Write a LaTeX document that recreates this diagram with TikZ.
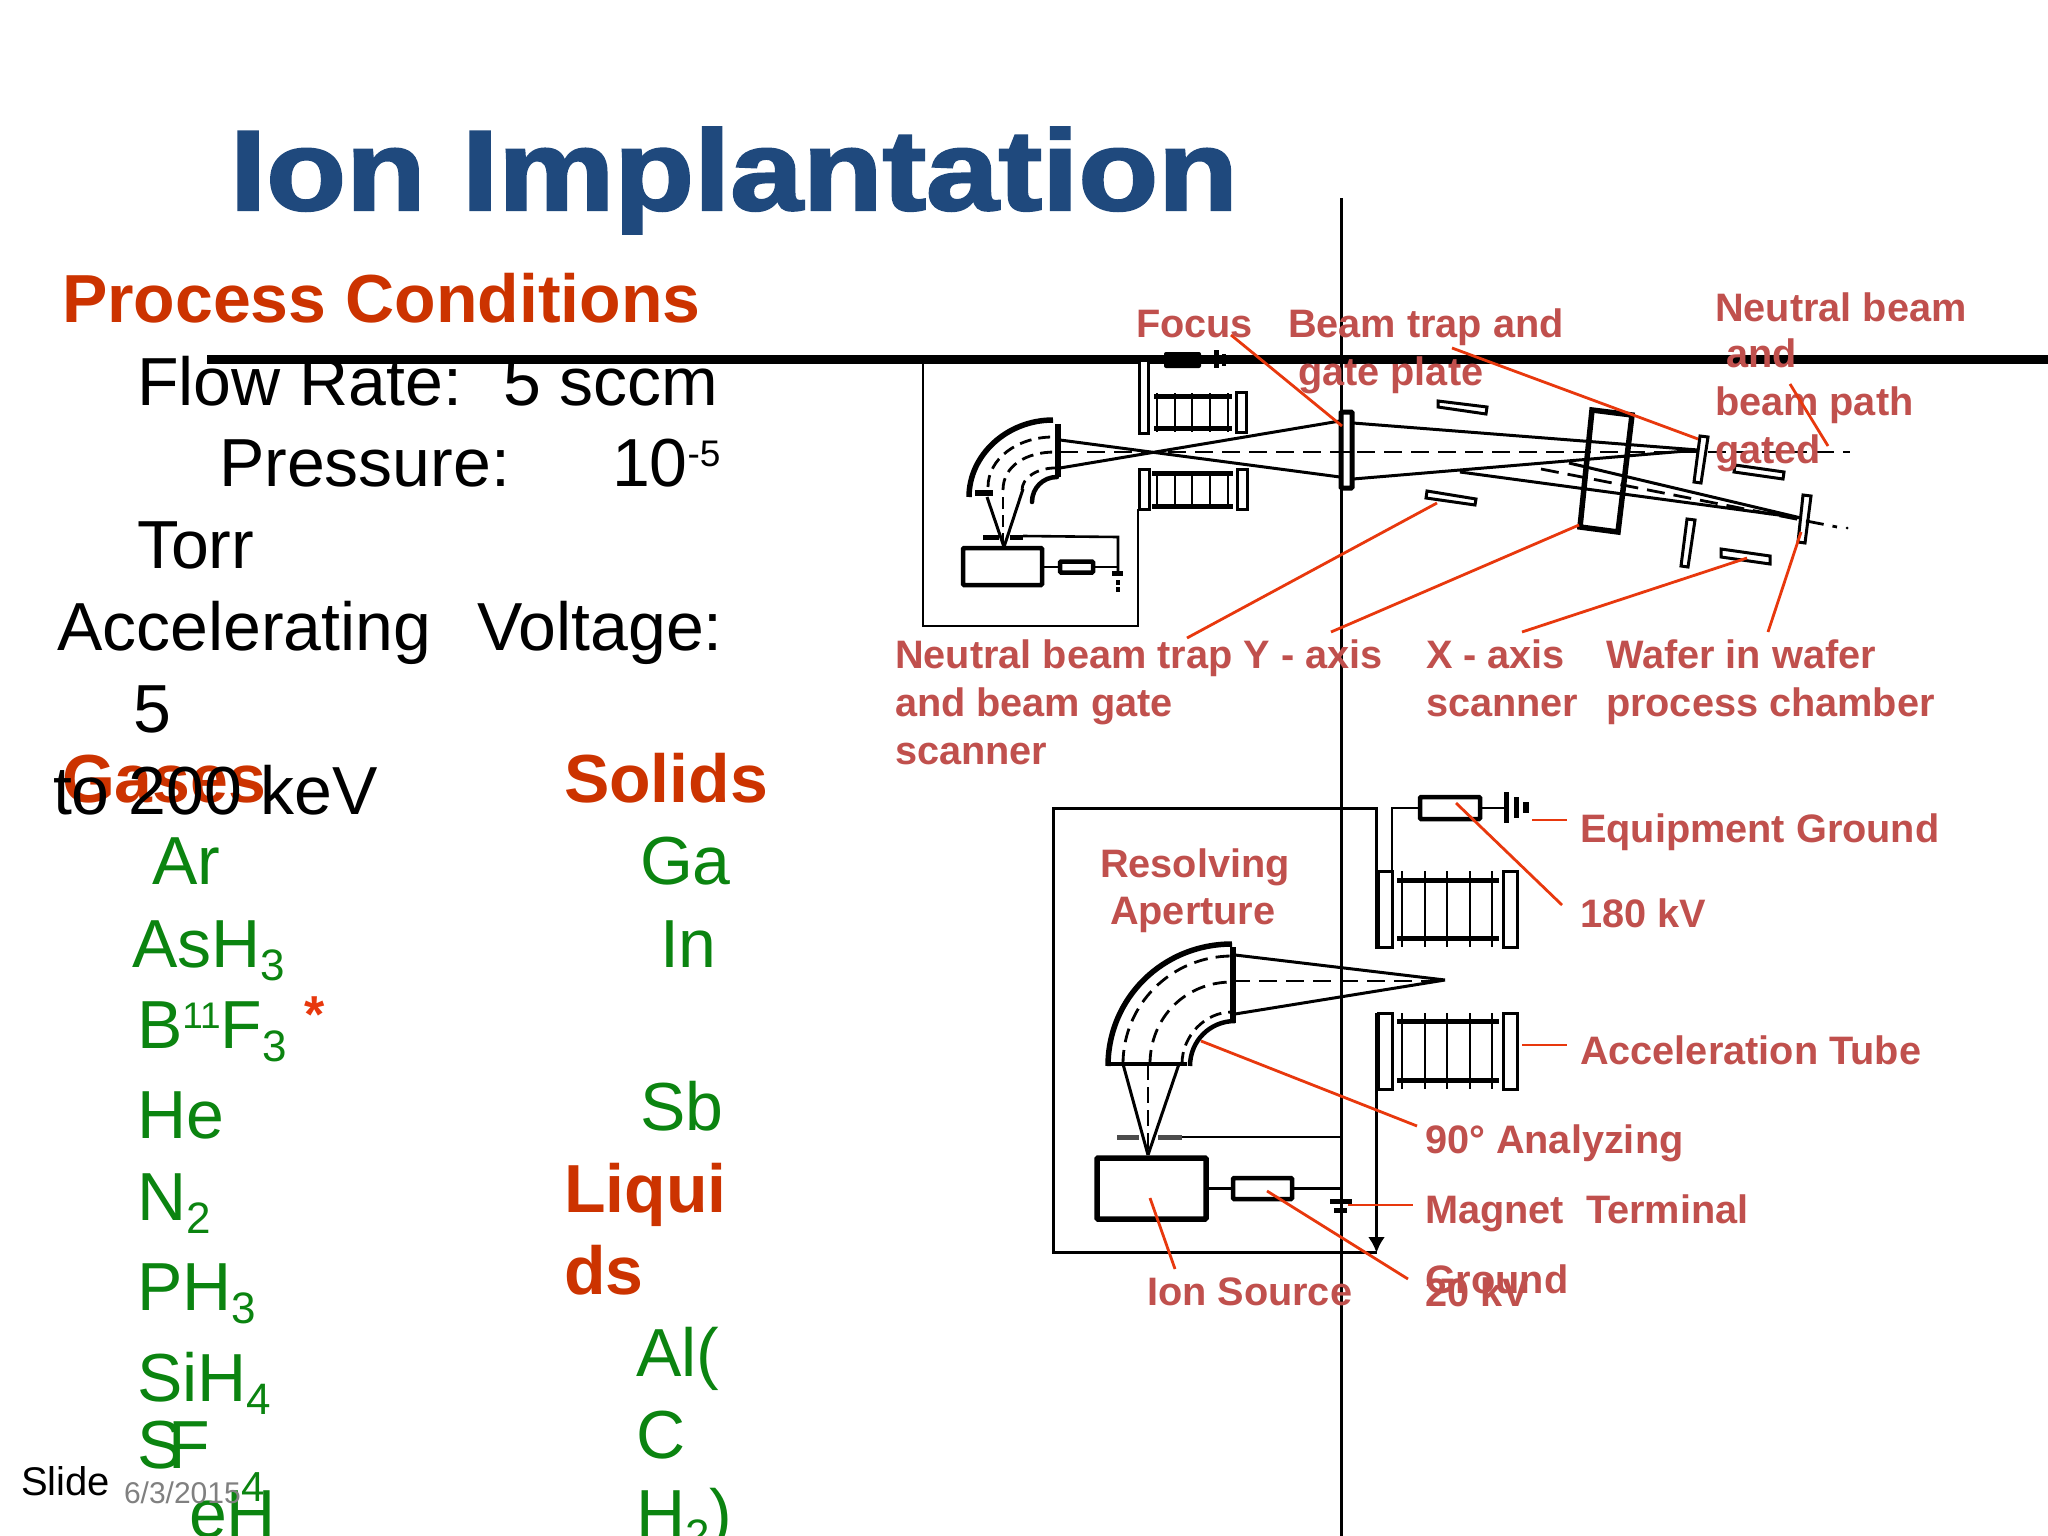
\documentclass[tikz,border=0pt]{standalone}
\usepackage{fontspec}
\usetikzlibrary{arrows.meta}
\setmainfont{Liberation Sans}
\newfontfamily\titlefont[FakeBold=2]{Liberation Sans Bold}
\definecolor{slideblue}{HTML}{1F497D}
\definecolor{headred}{HTML}{CC3300}
\definecolor{labred}{HTML}{C0504D}
\definecolor{leadred}{HTML}{E8380D}
\definecolor{chemgreen}{HTML}{0B8410}
\newcommand{\sbt}[1]{\raisebox{-13pt}{\fontsize{44}{44}\selectfont #1}}
\newcommand{\spt}[1]{\raisebox{20pt}{\fontsize{37}{37}\selectfont #1}}
\tikzset{
 x=1pt,y=-1pt,
 txt/.style={anchor=base west,inner sep=0,outer sep=0,font=\fontsize{68}{68}\selectfont},
 head/.style={txt,text=headred,font=\fontsize{68}{68}\selectfont\bfseries},
 chem/.style={txt,text=chemgreen},
 lab/.style={txt,text=labred,font=\fontsize{39.7}{39.7}\selectfont\bfseries},
 lead/.style={draw=leadred,line width=2.8pt},
 thin wire/.style={draw=black,line width=2.6pt},
 beam/.style={draw=black,line width=3pt},
 axis/.style={draw=black,line width=2.8pt,dash pattern=on 18pt off 9pt},
 plate/.style={draw=black,line width=3pt,fill=white},
 res/.style={draw=black,line width=4.5pt,rounded corners=1pt,fill=white},
}
\begin{document}
\begin{tikzpicture}
\useasboundingbox (0,0) rectangle (2048,1536);
\fill[white] (0,0) rectangle (2048,1536);
% --- rule lines
\coordinate (ruleL) at (207,359); \coordinate (ruleR) at (2048,359);
\coordinate (vtop) at (1341,198); \coordinate (vbot) at (1341,1536);
\draw[line width=9pt] (ruleL) -- (ruleR);
\draw[line width=3pt] (vtop) -- (vbot);
% --- title + left column
\node[txt,text=slideblue,font=\fontsize{114}{114}\titlefont,xscale=1.145] (title) at (230,210) {Ion Implantation};
\node[head] (proc) at (62,322) {Process Conditions};
\node[txt] (t1) at (137,405) {Flow Rate:};
\node[txt] (t1b) at (503,405) {5 sccm};
\node[txt] (t2) at (219,486) {Pressure:};
\node[txt] (t2b) at (612,486) {10\spt{-5}};
\node[txt] (t3) at (137,568) {Torr};
\node[txt] (t4) at (57,650) {Accelerating};
\node[txt] (t4b) at (477,650) {Voltage:};
\node[txt] (t5) at (133,732) {5};
\node[head] (gases) at (62,802) {Gases};
\node[txt] (t6) at (53,814) {to 200 keV};
\node[head] (solids) at (564,802) {Solids};
\node[chem] (g1) at (152,884) {Ar};
\node[chem] (g2) at (132,967) {AsH\sbt{3}};
\node[chem] (g3) at (137,1048) {B\spt{11}F\sbt{3}};
\node[txt,text=leadred,font=\fontsize{52}{52}\selectfont\bfseries] (star) at (304,1032) {*};
\node[chem] (g4) at (137,1138) {He};
\node[chem] (g5) at (137,1220) {N\sbt{2}};
\node[chem] (g6) at (137,1310) {PH\sbt{3}};
\node[chem] (g7) at (137,1401) {SiH\sbt{4}};
\node[chem] (g8) at (137,1468) {S};
\node[chem] (g8b) at (168,1468) {F};
\node[chem,font=\fontsize{42}{42}\selectfont] (g8c) at (241,1501) {4};
\node[chem] (g9) at (189,1537) {eH};
\node[chem] (s1) at (640,884) {Ga};
\node[chem] (s2) at (660,967) {In};
\node[chem] (s3) at (640,1130) {Sb};
\node[head] (liq1) at (564,1212) {Liqui};
\node[head] (liq2) at (564,1294) {ds};
\node[chem] (s4) at (636,1376) {Al(};
\node[chem] (s5) at (636,1458) {C};
\node[chem] (s6) at (636,1537) {H\sbt{2})};
\node[txt,font=\fontsize{40}{40}\selectfont] (slide) at (21,1495) {Slide};
\node[txt,text=black!50,font=\fontsize{30}{30}\selectfont] (date) at (124,1503) {6/3/2015};
% --- upper apparatus
\draw[thin wire] (1139,359) -- (923,359) -- (923,626) -- (1138,626) -- (1138,509);
\draw[plate] (1139,360) rectangle (1148,433);
\draw[plate] (1139,469) rectangle (1149,509);
\draw[plate] (1236,392) rectangle (1246,432);
\draw[plate] (1237,469) rectangle (1247,509);
\draw[line width=5pt] (1154,396) -- (1232,396) (1154,428) -- (1232,428) (1152,473) -- (1233,473) (1152,506) -- (1233,506);
\foreach \vx in {1157,1175,1192,1210,1228}{
 \draw[line width=2.5pt] (\vx,393) -- (\vx,432) (\vx,471) -- (\vx,509);}
\fill[rounded corners=2pt] (1164,352) rectangle (1201,368);
\draw[line width=5pt] (1216,350) -- (1216,368);
\draw[line width=4pt] (1224,354) -- (1224,366);
% magnet
\draw[line width=5.5pt] (969,497) .. controls (969,455) and (1007,420) .. (1053,420);
\draw[line width=4.5pt,line cap=round] (1032,502) .. controls (1032,488) and (1043,477) .. (1057,477);
\draw[line width=5.5pt] (1058,424) -- (1058,477);
\draw[line width=2.8pt,dash pattern=on 12pt off 7pt] (988,487) .. controls (988,459) and (1017,437) .. (1053,437);
\draw[line width=2.8pt,dash pattern=on 12pt off 7pt] (1003,490) .. controls (1003,466) and (1026,452) .. (1055,452);
\draw[line width=2.8pt,dash pattern=on 10pt off 7pt] (1022,490) .. controls (1022,478) and (1037,468) .. (1055,468);
\draw[line width=6pt] (975,493) -- (993,493);
\draw[beam] (1004,547) -- (987,497) (1004,547) -- (1023,489);
\draw[line width=2.5pt,dash pattern=on 12pt off 6pt] (1003,545) -- (1003,495);
\draw[line width=5pt] (983,537) -- (999,537) (1010,537) -- (1023,537);
\coordinate (srcwire) at (1118,537);
\draw[thin wire] (1023,536) -- (srcwire) -- (1118,573);
\node[draw,line width=4.5pt,rounded corners=1pt,minimum width=79pt,minimum height=37pt,inner sep=0] (srcA) at (1002.5,566.5) {};
\node[res,minimum width=33pt,minimum height=11pt,inner sep=0] (resA) at (1076.5,567) {};
\draw[thin wire] (srcA.east |- resA.west) -- (resA.west);
\draw[thin wire] (resA.east) -- (1118,567);
\draw[line width=5pt] (1112,573) -- (1123,573);
\draw[line width=5pt] (1116,582) -- (1120,582) (1116,589) -- (1120,589);
% beams
\draw[beam] (1060,440) -- (1340,477) (1060,468) -- (1340,421);
\draw[axis] (1060,452) -- (1850,452);
\draw[line width=5pt,rounded corners=1pt,fill=white] (1341,412) rectangle (1352,488);
\draw[axis] (1341,452) -- (1354,452);
\draw[beam] (1353,423) -- (1698,450) (1353,479) -- (1698,450);
\draw[line width=5.5pt] (1592,410) -- (1632,415) -- (1618,532) -- (1580,527) -- cycle;
\draw[beam] (1460,472) -- (1801,518) (1569,463) -- (1801,518);
\draw[line width=2.8pt,dash pattern=on 18pt off 9pt] (1541,469) -- (1837,527);
\fill (1847,528) circle (1.5);
\draw[plate] (1438,401) -- (1487,407) -- (1486,414) -- (1438,407) -- cycle;
\draw[plate] (1427,491) -- (1476,499) -- (1475,505) -- (1426,498) -- cycle;
\draw[plate] (1700,436) -- (1708,437) -- (1701,483) -- (1694,482) -- cycle;
\draw[plate] (1735,465) -- (1784,472) -- (1783,479) -- (1734,472) -- cycle;
\draw[plate,fill=none] (1803,495) -- (1811,496) -- (1805,543) -- (1798,542) -- cycle;
\draw[plate] (1687,519) -- (1695,520) -- (1688,567) -- (1681,566) -- cycle;
\draw[plate] (1721,549) -- (1770,556) -- (1770,564) -- (1721,557) -- cycle;
% --- lower apparatus
\draw[line width=3pt] (1376.5,949) -- (1376.5,808) -- (1053,808) -- (1053,1252) -- (1376.5,1252);
\coordinate (tubeB) at (1376.5,1013);
\coordinate (tubeE) at (1376.5,1253);
\draw[line width=3.5pt,-{Latex[length=16pt,width=17pt]}] (tubeB) -- (tubeE);
\foreach \rx/\ry in {1378/871,1503/871,1378/1013,1503/1013}{
 \draw[plate] (\rx,\ry) rectangle +(14,76);}
\draw[line width=5pt] (1397,880) -- (1499,880) (1397,938) -- (1499,938) (1397,1021) -- (1499,1021) (1397,1080) -- (1499,1080);
\foreach \vx in {1402,1425,1447,1470,1492}{
 \draw[line width=2.8pt] (\vx,871) -- (\vx,947) (\vx,1013) -- (\vx,1089);}
\node[res,minimum width=60pt,minimum height=22pt,inner sep=0] (resB) at (1450,808) {};
\draw[thin wire] (1392,871) -- (1392,808) -- (resB.west);
\draw[thin wire] (resB.east) -- (1506,808);
\draw[line width=5pt] (1506,792) -- (1506,823) (1516,797) -- (1516,818);
\draw[line width=6pt] (1526,802) -- (1526,813);
% magnet B
\draw[line width=5.5pt] (1108,1066) .. controls (1108,998) and (1163,944) .. (1232,944);
\draw[line width=4.5pt] (1190,1066) .. controls (1190,1041) and (1210,1021) .. (1235,1021);
\draw[line width=5.5pt] (1233,947) -- (1233,1023);
\draw[line width=4.5pt] (1108,1064) -- (1187,1064);
\draw[line width=2.8pt,dash pattern=on 14pt off 8pt] (1123,1064) .. controls (1123,1004) and (1172,956) .. (1232,956);
\draw[line width=2.8pt,dash pattern=on 14pt off 8pt] (1150,1064) .. controls (1150,1018) and (1185,982) .. (1232,982);
\draw[line width=2.8pt,dash pattern=on 12pt off 7pt] (1182,1064) .. controls (1182,1036) and (1205,1012) .. (1232,1012);
\draw[beam] (1235,955) -- (1445,980) (1235,1014) -- (1445,980);
\draw[axis] (1232,981) -- (1445,981);
\draw[beam] (1123,1064) -- (1148,1155) (1179,1064) -- (1148,1155);
\draw[line width=2.8pt,dash pattern=on 16pt off 7pt] (1148,1064) -- (1148,1155);
\draw[line width=5pt,black!70] (1117,1137) -- (1139,1137) (1158,1137) -- (1182,1137);
\draw[thin wire] (1182,1137) -- (1341,1137);
\node[draw,line width=5.5pt,rounded corners=1pt,minimum width=109pt,minimum height=61pt,inner sep=0] (srcB) at (1151.5,1188.5) {};
\node[res,minimum width=59pt,minimum height=21pt,inner sep=0] (resC) at (1262.5,1188.5) {};
\draw[thin wire] (srcB.east) -- (resC.west);
\draw[thin wire] (resC.east) -- (1341,1188.5);
\draw[line width=5pt] (1330,1201) -- (1352,1201) (1334,1210) -- (1347,1210);
% --- labels
\node[lab] (lFocus) at (1136,337) {Focus};
\node[lab] (lBeam1) at (1288,337) {Beam trap and};
\node[lab] (lBeam2) at (1298,385) {gate plate};
\node[lab] (lNB1) at (1715,321) {Neutral beam};
\node[lab] (lNB2) at (1726,367) {and};
\node[lab] (lNB3) at (1715,415) {beam path};
\node[lab] (lNB4) at (1715,463) {gated};
\node[lab] (lNT1) at (895,668) {Neutral beam trap Y - axis};
\node[lab] (lNT2) at (895,716) {and beam gate};
\node[lab] (lNT3) at (895,764) {scanner};
\node[lab] (lX1) at (1426,668) {X - axis};
\node[lab] (lX2) at (1426,716) {scanner};
\node[lab] (lW1) at (1606,668) {Wafer in wafer};
\node[lab] (lW2) at (1606,716) {process chamber};
\node[lab] (lR1) at (1100,877) {Resolving};
\node[lab] (lR2) at (1110,924) {Aperture};
\node[lab] (lEq) at (1580,842) {Equipment Ground};
\node[lab] (l180) at (1580,927) {180 kV};
\node[lab] (lAcc) at (1580,1064) {Acceleration Tube};
\node[lab] (l90) at (1425,1153) {90° Analyzing};
\node[lab] (lMag) at (1425,1223) {Magnet\ \ Terminal};
\node[lab] (lGnd) at (1425,1293) {Ground};
\node[lab] (l20) at (1425,1306) {20 kV};
\node[lab] (lIon) at (1147,1305) {Ion Source};
% --- leaders
\foreach \n/\ax/\ay/\bx/\by in {
 focus/1231/335/1342/426, trap/1452/348/1698/439, nb/1790/384/1828/446,
 nty/1187/638/1437/503, scy/1331/632/1579/525, xax/1522/632/1747/558,
 waf/1768/632/1801/532, eq/1532/820/1567/820, acc/1522/1045/1567/1045,
 kv/1456/803/1562/905, ana/1201/1041/1417/1126, mag/1348/1205/1413/1205,
 tw/1267/1191/1408/1279, ion/1150/1198/1175/1269}{
 \coordinate (\n A) at (\ax,\ay); \coordinate (\n B) at (\bx,\by);
 \draw[lead] (\n A) -- (\n B);}
\end{tikzpicture}
\end{document}
